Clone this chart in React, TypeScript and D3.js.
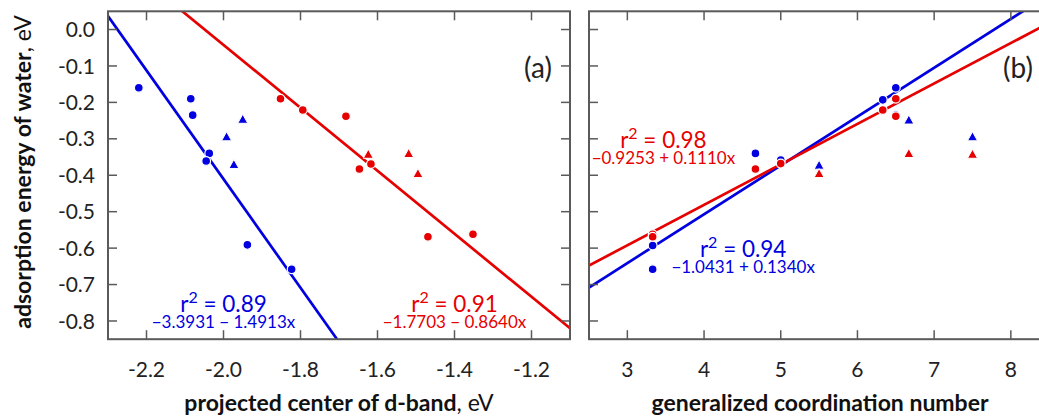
import React from "react";
import * as d3 from "d3";

// ---------- data ----------
const dBandTicks = [-2.2, -2.0, -1.8, -1.6, -1.4, -1.2];
const gcnTicks = [3, 4, 5, 6, 7, 8];
const energyTicks = [0.0, -0.1, -0.2, -0.3, -0.4, -0.5, -0.6, -0.7, -0.8];

// panel (a): projected d-band centre vs adsorption energy
const aBlueCircleX = [-2.22, -2.085, -2.08, -2.037, -2.045, -1.938, -1.823];
const aBlueCircleY = [-0.16, -0.19, -0.235, -0.34, -0.361, -0.591, -0.658];
const aBlueTriX = [-1.992, -1.95, -1.973];
const aBlueTriY = [-0.296, -0.248, -0.372];
const aRedCircleX = [-1.852, -1.794, -1.682, -1.647, -1.617, -1.469, -1.352];
const aRedCircleY = [-0.19, -0.221, -0.238, -0.383, -0.369, -0.569, -0.562];
const aRedTriX = [-1.624, -1.519, -1.495];
const aRedTriY = [-0.344, -0.342, -0.397];

// panel (b): generalized coordination number vs adsorption energy
const bBlueCircleX = [3.33, 3.33, 4.67, 5.0, 6.33, 6.5, 6.5];
const bBlueCircleY = [-0.593, -0.658, -0.34, -0.358, -0.193, -0.16, -0.235];
const bBlueTriX = [5.5, 6.67, 7.5];
const bBlueTriY = [-0.374, -0.25, -0.296];
const bRedCircleX = [3.33, 3.33, 4.67, 5.0, 6.33, 6.5, 6.5];
const bRedCircleY = [-0.562, -0.569, -0.383, -0.368, -0.221, -0.19, -0.238];
const bRedTriX = [5.5, 6.67, 7.5];
const bRedTriY = [-0.397, -0.342, -0.344];

// linear fits: [intercept, slope]
const fitABlue = [-3.3931, -1.4913];
const fitARed = [-1.7703, -0.864];
const fitBBlue = [-1.0431, 0.134];
const fitBRed = [-0.9253, 0.111];

const r2Labels = ["0.89", "0.91", "0.98", "0.94"];
const eqLabels = [
  "\u22123.3931 \u2212 1.4913x",
  "\u22121.7703 \u2212 0.8640x",
  "\u22120.9253 + 0.1110x",
  "\u22121.0431 + 0.1340x",
];

// ---------- style ----------
const BLUE = "#0000e0";
const RED = "#e60000";
const FRAME = "#5a5a5a";
const FONT = "Lato, 'Open Sans', sans-serif";

const W = 1039;
const H = 417;
const TOP = 11.3;
const BOTTOM = 339.2;

const yScale = d3.scaleLinear().domain([-0.85, 0.05]).range([BOTTOM, TOP]);
const xA = d3.scaleLinear().domain([-2.3, -1.1]).range([108, 570]);
const xB = d3.scaleLinear().domain([2.5, 8.5]).range([589, 589 + 6 * 76.7]);

const zip = (xs: number[], ys: number[]) => xs.map((x, i) => [x, ys[i]] as [number, number]);

function tri(cx: number, cy: number, s: number) {
  const h = s * 0.9;
  return `M${cx},${cy - h * 0.62}L${cx + s / 2},${cy + h * 0.38}L${cx - s / 2},${cy + h * 0.38}Z`;
}

type PanelProps = {
  id: string;
  x: d3.ScaleLinear<number, number>;
  xTicks: number[];
  xFmt: (v: number) => string;
  showY: boolean;
  fits: { coef: number[]; color: string }[];
  points: { pts: [number, number][]; color: string; shape: "c" | "t" }[];
};

function Panel({ id, x, xTicks, xFmt, showY, fits, points }: PanelProps) {
  const [x0, x1] = x.range();
  const [d0, d1] = x.domain();
  const clipId = `clip-${id}`;
  const TL = 9;
  return (
    <g>
      <defs>
        <clipPath id={clipId}>
          <rect x={x0} y={TOP} width={x1 - x0} height={BOTTOM - TOP} />
        </clipPath>
      </defs>
      <g clipPath={`url(#${clipId})`}>
        {fits.map((f, i) => {
          const line = d3
            .line<number>()
            .x((v) => x(v))
            .y((v) => yScale(f.coef[0] + f.coef[1] * v));
          return (
            <path key={i} d={line([d0, d1]) || ""} stroke={f.color} strokeWidth={2.7} fill="none" />
          );
        })}
        {points.map((p, i) => (
          <g key={i}>
            {p.pts.map(([px, py], j) =>
              p.shape === "c" ? (
                <circle key={j} cx={x(px)} cy={yScale(py)} r={4.4} fill={p.color} stroke="#fff" strokeWidth={1.2} />
              ) : (
                <path key={j} d={tri(x(px), yScale(py), 10)} fill={p.color} stroke="#fff" strokeWidth={1} />
              )
            )}
          </g>
        ))}
      </g>
      {/* ticks */}
      {xTicks.map((t) => (
        <g key={`xt${t}`}>
          <line x1={x(t)} x2={x(t)} y1={BOTTOM} y2={BOTTOM - TL} stroke={FRAME} strokeWidth={1.5} />
          <line x1={x(t)} x2={x(t)} y1={TOP} y2={TOP + TL} stroke={FRAME} strokeWidth={1.5} />
          <text x={x(t)} y={377} textAnchor="middle" fontSize={21} fill="#222" fontFamily={FONT}>
            {xFmt(t)}
          </text>
        </g>
      ))}
      {energyTicks.map((t) => (
        <g key={`yt${t}`}>
          <line x1={x0} x2={x0 + TL} y1={yScale(t)} y2={yScale(t)} stroke={FRAME} strokeWidth={1.5} />
          <line x1={x1} x2={x1 - TL} y1={yScale(t)} y2={yScale(t)} stroke={FRAME} strokeWidth={1.5} />
          {showY && (
            <text x={95} y={yScale(t)} dy="0.36em" textAnchor="end" fontSize={21} fill="#222" fontFamily={FONT}>
              {d3.format(".1f")(t).replace("\u2212", "-")}
            </text>
          )}
        </g>
      ))}
      <rect x={x0} y={TOP} width={x1 - x0} height={BOTTOM - TOP} fill="none" stroke={FRAME} strokeWidth={2} />
    </g>
  );
}

function R2({ x, y, color, value, eq }: { x: number; y: number; color: string; value: string; eq: string }) {
  return (
    <g fill={color} fontFamily={FONT} textAnchor="middle">
      <text x={x} y={y} fontSize={22.5}>
        r<tspan dy={-9} fontSize={16}>2</tspan>
        <tspan dy={9}> = {value}</tspan>
      </text>
      <text x={x} y={y + 16.5} fontSize={17}>
        {eq}
      </text>
    </g>
  );
}

export default function App() {
  return (
    <svg width={W} height={H} style={{ position: "absolute", left: 0, top: 0, background: "#fff" }}>
      <Panel
        id="a"
        x={xA}
        xTicks={dBandTicks}
        xFmt={(v) => d3.format(".1f")(v).replace("\u2212", "-")}
        showY={true}
        fits={[
          { coef: fitABlue, color: BLUE },
          { coef: fitARed, color: RED },
        ]}
        points={[
          { pts: zip(aBlueCircleX, aBlueCircleY), color: BLUE, shape: "c" },
          { pts: zip(aBlueTriX, aBlueTriY), color: BLUE, shape: "t" },
          { pts: zip(aRedCircleX, aRedCircleY), color: RED, shape: "c" },
          { pts: zip(aRedTriX, aRedTriY), color: RED, shape: "t" },
        ]}
      />
      <Panel
        id="b"
        x={xB}
        xTicks={gcnTicks}
        xFmt={(v) => String(v)}
        showY={false}
        fits={[
          { coef: fitBBlue, color: BLUE },
          { coef: fitBRed, color: RED },
        ]}
        points={[
          { pts: zip(bBlueCircleX, bBlueCircleY), color: BLUE, shape: "c" },
          { pts: zip(bBlueTriX, bBlueTriY), color: BLUE, shape: "t" },
          { pts: zip(bRedCircleX, bRedCircleY), color: RED, shape: "c" },
          { pts: zip(bRedTriX, bRedTriY), color: RED, shape: "t" },
        ]}
      />
      {/* panel letters */}
      <text x={538} y={78} textAnchor="middle" fontSize={28} fill="#222" fontFamily={FONT}>(a)</text>
      <text x={1018} y={78} textAnchor="middle" fontSize={28} fill="#222" fontFamily={FONT}>(b)</text>
      {/* fit annotations */}
      <R2 x={xA(-2.0)} y={yScale(-0.774)} color={BLUE} value={r2Labels[0]} eq={eqLabels[0]} />
      <R2 x={xA(-1.4)} y={yScale(-0.774)} color={RED} value={r2Labels[1]} eq={eqLabels[1]} />
      <R2 x={xB(3.47)} y={yScale(-0.325)} color={RED} value={r2Labels[2]} eq={eqLabels[2]} />
      <R2 x={xB(4.51)} y={yScale(-0.624)} color={BLUE} value={r2Labels[3]} eq={eqLabels[3]} />
      {/* axis titles */}
      <text x={339} y={411} textAnchor="middle" fontSize={23} fill="#111" fontFamily={FONT}>
        <tspan fontWeight="bold">projected center of d-band</tspan>
        <tspan>, eV</tspan>
      </text>
      <text x={820} y={411} textAnchor="middle" fontSize={23} fill="#111" fontFamily={FONT} fontWeight="bold">
        generalized coordination number
      </text>
      <text
        transform={`translate(31,172) rotate(-90)`}
        textAnchor="middle"
        fontSize={23}
        fill="#111"
        fontFamily={FONT}
      >
        <tspan fontWeight="bold">adsorption energy of water</tspan>
        <tspan>, eV</tspan>
      </text>
    </svg>
  );
}
